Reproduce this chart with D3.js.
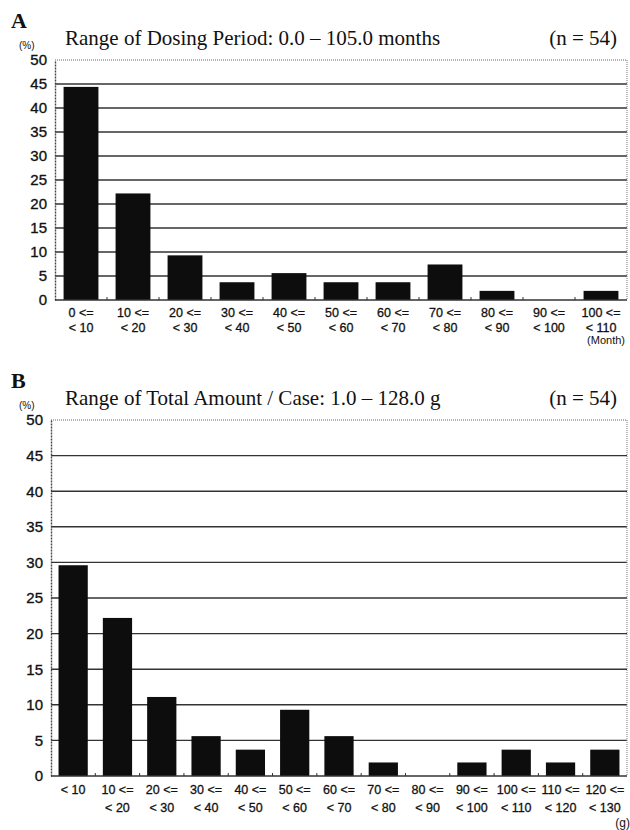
<!DOCTYPE html>
<html><head><meta charset="utf-8">
<script src="https://cdn.jsdelivr.net/npm/d3@7"></script>
<style>
body{margin:0;background:#fff;}
svg{display:block;}
.ytick{font-family:"Liberation Sans",Arial,sans-serif;font-size:15px;fill:#111;stroke:#111;stroke-width:0.35px;}
.xtick{font-family:"Liberation Sans",Arial,sans-serif;font-size:12.5px;fill:#111;stroke:#111;stroke-width:0.3px;}
.title{font-family:"Liberation Serif","Times New Roman",serif;font-size:21px;fill:#111;}
.panel{font-family:"Liberation Serif","Times New Roman",serif;font-size:22px;font-weight:bold;fill:#111;}
.unit{font-family:"Liberation Sans",Arial,sans-serif;font-size:10px;fill:#111;}
</style>
</head><body>
<script>
// Panel A data
const catsA_top = ["0 <=","10 <=","20 <=","30 <=","40 <=","50 <=","60 <=","70 <=","80 <=","90 <=","100 <="];
const catsA_bot = ["< 10","< 20","< 30","< 40","< 50","< 60","< 70","< 80","< 90","< 100","< 110"];
const valuesA = [44.4,22.2,9.3,3.7,5.6,3.7,3.7,7.4,1.9,0,1.9];
const titleA = "Range of Dosing Period: 0.0 \u2013 105.0 months";
// Panel B data
const catsB_top = ["< 10","10 <=","20 <=","30 <=","40 <=","50 <=","60 <=","70 <=","80 <=","90 <=","100 <=","110 <=","120 <="];
const catsB_bot = ["","< 20","< 30","< 40","< 50","< 60","< 70","< 80","< 90","< 100","< 110","< 120","< 130"];
const valuesB = [29.6,22.2,11.1,5.6,3.7,9.3,5.6,1.9,0,1.9,3.7,1.9,3.7];
const titleB = "Range of Total Amount / Case: 1.0 \u2013 128.0 g";
const nLabel = "(n = 54)";
const yTicks = [0,5,10,15,20,25,30,35,40,45,50];

const svg = d3.select("body").append("svg").attr("width",630).attr("height",830);

function panel(o){
  const g = svg.append("g");
  const x = d3.scaleBand().domain(d3.range(o.values.length)).range([o.left,o.right]).paddingInner(o.pad).paddingOuter(o.pad/2);
  const y = d3.scaleLinear().domain([0,50]).range([o.bottom,o.top]);
  g.selectAll("line.grid").data(yTicks.filter(t=>t>0 && t<50)).enter().append("line")
    .attr("x1",o.left).attr("x2",o.right).attr("y1",d=>y(d)).attr("y2",d=>y(d))
    .attr("stroke","#333").attr("stroke-width",1.4);
  g.append("line").attr("x1",o.left).attr("x2",o.right).attr("y1",y(50)).attr("y2",y(50))
    .attr("stroke","#666").attr("stroke-width",1).attr("stroke-dasharray","1,1");
  g.append("line").attr("x1",o.right).attr("x2",o.right).attr("y1",y(50)).attr("y2",y(0))
    .attr("stroke","#777").attr("stroke-width",1).attr("stroke-dasharray","1,1");
  g.selectAll("rect.bar").data(o.values).enter().append("rect")
    .attr("x",(d,i)=>x(i)).attr("width",x.bandwidth())
    .attr("y",d=>y(d)).attr("height",d=>y(0)-y(d)).attr("fill","#0d0d0d");
  const ya = d3.axisLeft(y).tickValues(yTicks).tickSize(0).tickPadding(o.tickPad);
  const ag = g.append("g").attr("transform",`translate(${o.left},0)`).call(ya);
  ag.select(".domain").attr("stroke","#444").attr("stroke-width",1.4).attr("stroke-dasharray","2,1");
  ag.selectAll("text").attr("class","ytick").attr("font-size",null).attr("font-family",null);
  g.append("line").attr("x1",o.left).attr("x2",o.right).attr("y1",y(0)).attr("y2",y(0))
    .attr("stroke","#333").attr("stroke-width",1.4);
  const step = x.step();
  g.selectAll("line.xt").data(d3.range(1,o.values.length)).enter().append("line")
    .attr("x1",i=>x(i)-step*o.pad/2).attr("x2",i=>x(i)-step*o.pad/2)
    .attr("y1",y(0)).attr("y2",y(0)-3).attr("stroke","#333").attr("stroke-width",1);
  g.selectAll("text.xl1").data(o.top1).enter().append("text").attr("class","xtick")
    .attr("x",(d,i)=>x(i)+x.bandwidth()/2).attr("y",y(0)+o.l1).attr("text-anchor","middle").text(d=>d);
  g.selectAll("text.xl2").data(o.top2).enter().append("text").attr("class","xtick")
    .attr("x",(d,i)=>x(i)+x.bandwidth()/2).attr("y",y(0)+o.l2).attr("text-anchor","middle").text(d=>d);
  g.append("text").attr("class","panel").attr("x",o.panelX).attr("y",o.panelY).text(o.panelName);
  g.append("text").attr("class","unit").attr("x",o.unitX).attr("y",o.unitY).text("(%)");
  g.append("text").attr("class","title").attr("x",o.titleX).attr("y",o.titleY).text(o.title);
  g.append("text").attr("class","title").attr("x",617).attr("y",o.titleY).attr("text-anchor","end").text(nLabel);
  g.append("text").attr("class","unit").attr("x",o.uxX).attr("y",o.uxY).attr("text-anchor","end")
    .style("font-size",o.uxSize).text(o.xUnit);
}

panel({values:valuesA, top1:catsA_top, top2:catsA_bot, left:55, right:627, top:60, bottom:300, pad:0.33, tickPad:8,
  l1:17, l2:32, panelName:"A", panelX:11, panelY:28, unitX:19, unitY:49, title:titleA, titleX:65, titleY:45,
  xUnit:"(Month)", uxX:625, uxY:344, uxSize:"11px"});
panel({values:valuesB, top1:catsB_top, top2:catsB_bot, left:51, right:627, top:420, bottom:776, pad:0.34, tickPad:8,
  l1:18, l2:36, panelName:"B", panelX:11, panelY:388, unitX:19, unitY:409, title:titleB, titleX:65, titleY:405,
  xUnit:"(g)", uxX:630, uxY:827, uxSize:"12px"});
</script>
</body></html>
